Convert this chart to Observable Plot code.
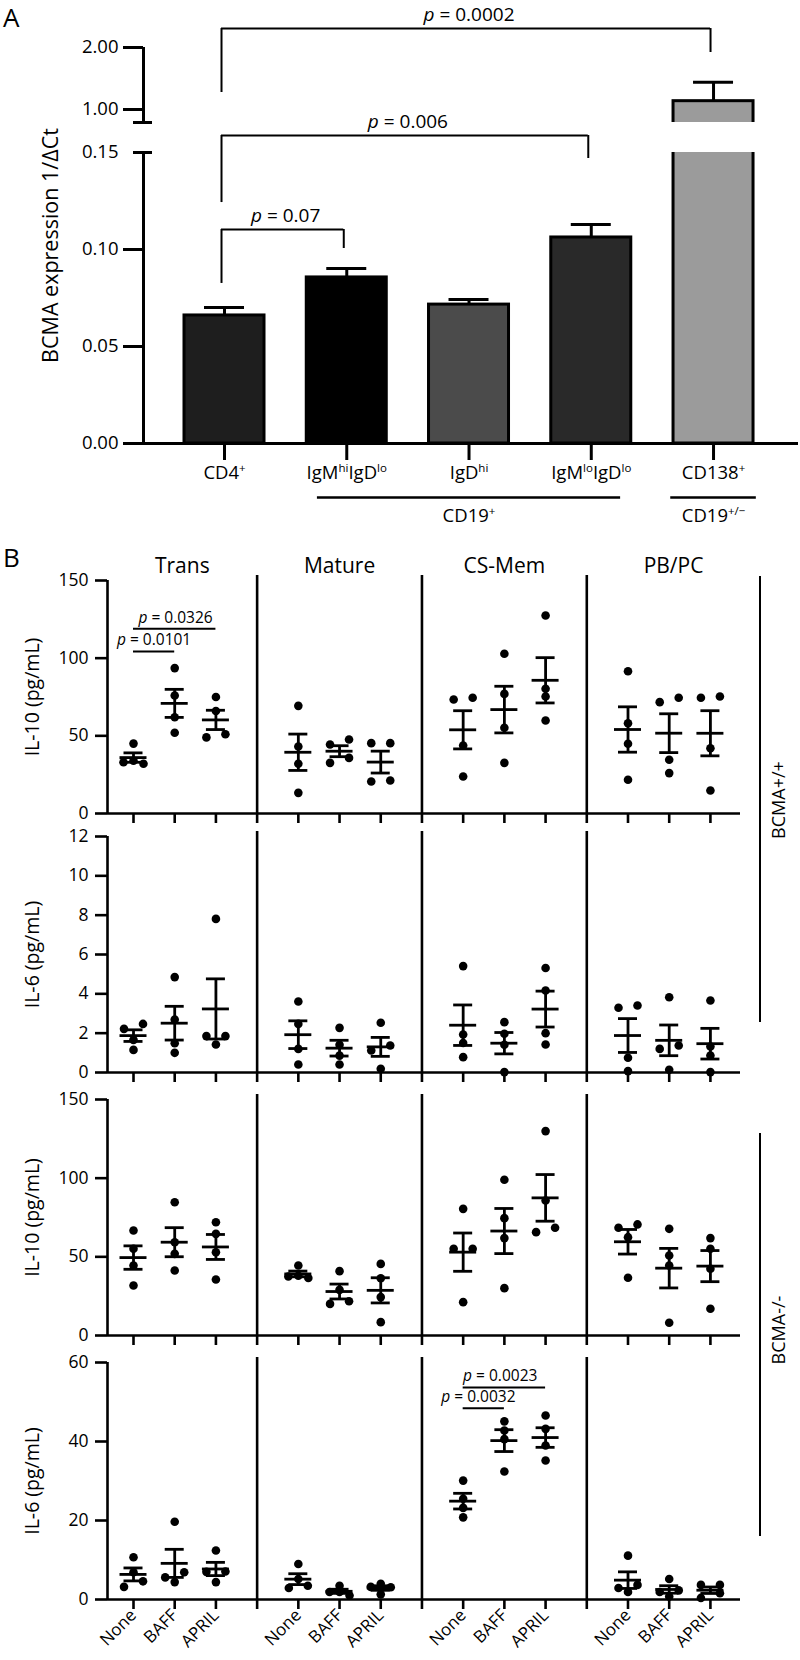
<!DOCTYPE html>
<html><head><meta charset="utf-8">
<script src="https://cdn.jsdelivr.net/npm/d3@7"></script>
<script src="https://cdn.jsdelivr.net/npm/@observablehq/plot@0.6"></script>
<style>
body{margin:0;background:#fff;font-family:"Open Sans",sans-serif;color:#000;}
#fig{position:relative;width:800px;height:1660px;overflow:hidden;}
</style></head><body><div id="fig"></div>
<script>
// ---------------- DATA: panel A ----------------
const cellTypes = ["CD4^+^", "IgM^hi^IgD^lo^", "IgD^hi^", "IgM^lo^IgD^lo^", "CD138^+^"];
const bcmaMean  = [0.066, 0.0856, 0.0716, 0.1062, 1.134];
const bcmaSem   = [0.0041, 0.0046, 0.0026, 0.0067, 0.305];
const barFills  = ["#1e1e1e", "#000000", "#4b4b4b", "#292929", "#9b9b9b"];
const yTicksA   = [0, 0.05, 0.10, 1.00, 2.00];
const yLabelA   = "BCMA expression 1/ΔCt";
const groupLabelsA = ["CD19^+^", "CD19^+/−^"];
const groupFromA   = [1, 4];
const groupToA     = [3, 4];
const pLabelsA  = ["0.07", "0.006", "0.0002"];
const pFromA    = [0, 0, 0];
const pToA      = [1, 3, 4];

// ---------------- DATA: panel B ----------------
const cellGroups = ["Trans", "Mature", "CS-Mem", "PB/PC"];
const treatments = ["None", "BAFF", "APRIL"];
const rowLabels  = ["IL-10 (pg/mL)", "IL-6 (pg/mL)", "IL-10 (pg/mL)", "IL-6 (pg/mL)"];
const genotypes  = ["BCMA+/+", "BCMA-/-"];
const yTicksB = [[0, 50, 100, 150], [0, 2, 4, 6, 8, 10, 12], [0, 50, 100, 150], [0, 20, 40, 60]];
const yMaxB   = [150, 12, 150, 60];
// values[cellGroup][treatment] = 4 donors
const il10WT = [
  [[45, 34, 33, 32], [93.6, 76, 62, 52], [75, 66, 51, 49]],
  [[69.3, 43.1, 32, 13.3], [47.6, 44.4, 35.8, 32.6], [45.3, 45.3, 21.2, 20.6]],
  [[74.5, 73.4, 43.8, 23.8], [102.8, 77, 55.2, 32.6], [127.5, 80.3, 75.3, 59.9]],
  [[91.6, 58.1, 44.9, 21.7], [74.5, 71.7, 34.6, 26], [75.3, 74.5, 42, 14.8]]
];
const il6WT = [
  [[2.47, 2.22, 1.66, 1.15], [4.85, 2.69, 1.49, 1.0], [7.81, 1.85, 1.85, 1.42]],
  [[3.61, 2.47, 1.2, 0.41], [2.27, 1.41, 0.86, 0.41], [2.53, 1.37, 1.12, 0.19]],
  [[5.41, 1.93, 1.5, 0.78], [2.56, 1.97, 1.41, 0.02], [5.31, 4.17, 2.0, 1.42]],
  [[3.41, 3.29, 0.75, 0.07], [3.83, 1.37, 1.2, 0.14], [3.66, 1.32, 0.86, 0.02]]
];
const il10KO = [
  [[66.7, 55.1, 44.5, 31.8], [84.7, 59.3, 51.9, 41.3], [72, 64.6, 52.9, 35.6]],
  [[44.5, 38, 37.5, 36.5], [40.9, 29, 21.8, 20.1], [45.5, 36.4, 24.4, 8.5]],
  [[80.5, 55.1, 55.1, 21.2], [99, 74.6, 61.9, 30.1], [129.9, 85.8, 68.5, 65.7]],
  [[70.6, 68.5, 62.5, 36.7], [67.8, 50.8, 44.5, 8.1], [61.9, 55.1, 42.4, 17]]
];
const il6KO = [
  [[10.7, 6.9, 4.6, 3.2], [19.7, 6.9, 5.6, 4.4], [12.4, 7.1, 7.0, 4.4]],
  [[9.0, 5.2, 3.5, 2.9], [3.5, 1.9, 1.9, 1.0], [4.0, 3.2, 3.1, 1.3]],
  [[30.1, 25.5, 23.2, 20.8], [45.1, 42.8, 40.6, 32.4], [46.6, 43.2, 39, 35.2]],
  [[11.1, 3.7, 2.9, 1.9], [5.2, 2.3, 1.9, 0.76], [3.7, 3.7, 1.6, 0.4]]
];
const sigRow   = [0, 0, 3, 3];
const sigGroup = [0, 0, 2, 2];
const sigFrom  = [0, 0, 0, 0];
const sigTo    = [2, 1, 2, 1];
const sigP     = ["0.0326", "0.0101", "0.0023", "0.0032"];

// ---------------- LAYOUT ----------------
const FONT = "'Open Sans', sans-serif";
const A_X = [-0.6626, 4.695];
const A_PX = (800 - 143 - 2) / (A_X[1] - A_X[0]);
const A_Y_DOMAIN = [0, 0.15, 0.79, 2];
const A_Y_RANGE  = [443, 152, 122, 47];
const bracketTopA   = [0.1103, 0.5127, 2.306];
const bracketLeftA  = [0.0825, 0.1242, 1.274];
const bracketRightA = [0.1005, 0.1469, 1.919];
const groupPadA = [0.24, 0.35];

const B_X = [-0.631, 14.73];
const B_ML = 107, B_MR = 60;
const B_PX = (800 - B_ML - B_MR) / (B_X[1] - B_X[0]);
const ROWS = [
  {top: 540, mt: 40, mb: 13, h: 286},
  {top: 826, mt: 10, mb: 15, h: 261},
  {top: 1087, mt: 12, mb: 14, h: 262},
  {top: 1349, mt: 13, mb: 61, h: 311}
];
const regionBounds = [B_X[0], 3, 7, 11, 15.21];
const sigY      = [119, 104.3, 53.7, 48.4];
const sigLabelX = [1.02, 0.5, 0.9, 0.37];
const PATTERNS = {1: [0], 2: [9.5, -9.5], 3: [0, -10, 10], 4: [-15, -5, 5, 15]};

const fig = document.getElementById("fig");

// ---------- helpers ----------
function richify(root) {
  const NS = "http://www.w3.org/2000/svg";
  root.querySelectorAll("text, tspan").forEach(el => {
    if (el.children.length) return;
    const s = el.textContent;
    if (!/[\^*]/.test(s)) return;
    const fs = parseFloat(getComputedStyle(el).fontSize) || 16;
    el.textContent = "";
    let sup = false, ital = false, buf = "", raised = false;
    const flush = () => {
      if (!buf) return;
      const t = document.createElementNS(NS, "tspan");
      t.textContent = buf;
      if (ital) t.setAttribute("font-style", "italic");
      if (sup) {
        t.setAttribute("font-size", (fs * 0.62).toFixed(1));
        if (!raised) { t.setAttribute("dy", (-fs * 0.38).toFixed(1)); raised = true; }
      } else if (raised) {
        t.setAttribute("dy", (fs * 0.38).toFixed(1)); raised = false;
      }
      el.appendChild(t);
      buf = "";
    };
    for (const ch of s) {
      if (ch === "^") { flush(); sup = !sup; }
      else if (ch === "*") { flush(); ital = !ital; }
      else buf += ch;
    }
    flush();
  });
}
function place(node, top, left) {
  node.style.position = "absolute";
  node.style.top = top + "px";
  node.style.left = (left || 0) + "px";
  fig.appendChild(node);
  richify(node);
}
function jitterPx(values, pyu) {
  const idx = values.map((v, i) => i).sort((a, b) => values[b] - values[a]);
  const off = values.map(() => 0);
  let k = 0;
  while (k < idx.length) {
    const cl = [idx[k]];
    let j = k + 1;
    while (j < idx.length && (values[idx[k]] - values[idx[j]]) * pyu < 6) { cl.push(idx[j]); j++; }
    const pat = PATTERNS[cl.length];
    cl.forEach((ii, m) => off[ii] = pat[m]);
    k = j;
  }
  return off;
}

// ---------------- PANEL A ----------------
const barsA = cellTypes.map((c, i) => ({i, mean: bcmaMean[i], sem: bcmaSem[i], fill: barFills[i]}));
const bracketsA = pLabelsA.map((p, k) => ({p, a: pFromA[k], b: pToA[k], top: bracketTopA[k], left: bracketLeftA[k], right: bracketRightA[k]}));
const groupsA = groupLabelsA.map((g, k) => ({label: g, from: groupFromA[k], to: groupToA[k], pad: groupPadA[k]}));
const BAR_HALF = 40 / A_PX, CAP_HALF_A = 20 / A_PX;

const plotA = Plot.plot({
  width: 800, height: 535,
  marginLeft: 143, marginRight: 2, marginTop: 47, marginBottom: 92,
  style: {fontFamily: FONT, fontSize: "18px", color: "black", background: "white", overflow: "visible"},
  x: {type: "linear", domain: A_X},
  y: {type: "linear", domain: A_Y_DOMAIN, range: A_Y_RANGE},
  marks: [
    Plot.rect(barsA, {x1: d => d.i - BAR_HALF, x2: d => d.i + BAR_HALF, y1: 0, y2: "mean", fill: "fill", stroke: "black", strokeWidth: 3}),
    Plot.ruleX(barsA, {x: "i", y1: "mean", y2: d => d.mean + d.sem, strokeWidth: 3}),
    Plot.ruleY(barsA, {y: d => d.mean + d.sem, x1: d => d.i - CAP_HALF_A, x2: d => d.i + CAP_HALF_A, strokeWidth: 3}),
    Plot.ruleX([A_X[0]], {strokeWidth: 3}),
    Plot.rect([{y1: A_Y_DOMAIN[1], y2: A_Y_DOMAIN[2]}], {x1: A_X[0] - 0.2, x2: A_X[1], y1: "y1", y2: "y2", fill: "white"}),
    Plot.ruleY([0], {strokeWidth: 3}),
    Plot.axisY({ticks: yTicksA, tickSize: 20, tickPadding: 5, strokeWidth: 3, tickFormat: d3.format(".2f"), fontSize: 18.5, label: null}),
    Plot.axisY({ticks: [0.15], tickSize: 0, tickPadding: 25, tickFormat: d3.format(".2f"), fontSize: 18.5, label: null}),
    Plot.text([yLabelA], {frameAnchor: "left", textAnchor: "middle", lineAnchor: "middle", rotate: -90, dx: -92, text: d => d, fontSize: 21.5}),
    Plot.ruleY([A_Y_DOMAIN[1], A_Y_DOMAIN[2]], {y: d => d, x1: A_X[0] - 10 / A_PX, x2: A_X[0] + 9 / A_PX, strokeWidth: 3}),
    Plot.axisX({ticks: [0, 1, 2, 3, 4], tickSize: 17, tickPadding: 5, strokeWidth: 3, tickFormat: i => cellTypes[i], fontSize: 18.5, label: null}),
    Plot.ruleY(groupsA, {y: 0, x1: d => d.from - d.pad, x2: d => d.to + d.pad, dy: 54, strokeWidth: 2.5}),
    Plot.text(groupsA, {x: d => (d.from + d.to) / 2, y: 0, dy: 73, text: "label", fontSize: 18.5}),
    Plot.ruleY(bracketsA, {y: "top", x1: "a", x2: "b", dx: -3, strokeWidth: 2}),
    Plot.ruleX(bracketsA, {x: "a", y1: "left", y2: "top", dx: -3, strokeWidth: 2}),
    Plot.ruleX(bracketsA, {x: "b", y1: "right", y2: "top", dx: -3, strokeWidth: 2}),
    Plot.text(bracketsA, {x: d => (d.a + d.b) / 2, y: "top", dy: -14, text: d => "*p* = " + d.p, fontSize: 19})
  ]
});
place(plotA, 0, 0);

// ---------------- PANEL B ----------------
const rowSeries = [il10WT, il6WT, il10KO, il6KO];
const sigB = sigP.map((p, k) => ({row: sigRow[k], col: sigGroup[k], from: sigFrom[k], to: sigTo[k], p, y: sigY[k], lx: sigLabelX[k]}));
const tickX = [];
cellGroups.forEach((g, c) => treatments.forEach((t, i) => tickX.push(c * 4 + i)));
const dividerX = cellGroups.slice(1).map((g, c) => (c + 1) * 4 - 1);
const titleX = cellGroups.map((g, c) => (regionBounds[c] + regionBounds[c + 1]) / 2);
const MEAN_HALF = 13.5 / B_PX, CAP_HALF = 9.5 / B_PX;
const AX_W = 2.6, DATA_W = 2.8;

ROWS.forEach((L, r) => {
  const innerH = L.h - L.mt - L.mb;
  const pyu = innerH / yMaxB[r];
  const points = [], summary = [];
  rowSeries[r].forEach((grp, c) => grp.forEach((vals, t) => {
    const off = jitterPx(vals, pyu);
    const xc = c * 4 + t;
    vals.forEach((v, k) => points.push({x: xc + off[k] / B_PX, value: v}));
    summary.push({x: xc, mean: d3.mean(vals), sem: d3.deviation(vals) / Math.sqrt(vals.length)});
  }));
  const sig = sigB.filter(d => d.row === r);
  const bottom = r === ROWS.length - 1;
  const marks = [
    Plot.ruleX([B_X[0]], {strokeWidth: AX_W}),
    Plot.ruleX(dividerX, {strokeWidth: AX_W, insetTop: -5, insetBottom: -10}),
    Plot.ruleY([0], {strokeWidth: AX_W}),
    Plot.axisY({ticks: yTicksB[r], tickSize: 12, tickPadding: 7, strokeWidth: AX_W, fontSize: 17.5, tickFormat: d3.format("d"), label: null}),
    Plot.text([rowLabels[r]], {frameAnchor: "left", textAnchor: "middle", lineAnchor: "middle", rotate: -90, dx: -75, text: d => d, fontSize: 19.5}),
    Plot.axisX({ticks: tickX, tickSize: 10, tickPadding: 3, strokeWidth: AX_W, label: null, fontSize: 17,
      tickFormat: bottom ? (v => treatments[v % 4]) : (() => ""), tickRotate: bottom ? -45 : 0}),
    Plot.dot(points, {x: "x", y: "value", r: 4.3, fill: "black"}),
    Plot.ruleY(summary, {y: "mean", x1: d => d.x - MEAN_HALF, x2: d => d.x + MEAN_HALF, strokeWidth: DATA_W}),
    Plot.ruleX(summary, {x: "x", y1: d => d.mean - d.sem, y2: d => d.mean + d.sem, strokeWidth: DATA_W}),
    Plot.ruleY(summary, {y: d => d.mean + d.sem, x1: d => d.x - CAP_HALF, x2: d => d.x + CAP_HALF, strokeWidth: DATA_W}),
    Plot.ruleY(summary, {y: d => d.mean - d.sem, x1: d => d.x - CAP_HALF, x2: d => d.x + CAP_HALF, strokeWidth: DATA_W}),
    Plot.ruleY(sig, {y: "y", x1: d => d.col * 4 + d.from, x2: d => d.col * 4 + d.to, strokeWidth: 2}),
    Plot.text(sig, {x: d => d.col * 4 + d.lx, y: "y", dy: -11, text: d => "*p* = " + d.p, fontSize: 15.5})
  ];
  if (r === 0) marks.push(Plot.text(cellGroups, {x: (d, i) => titleX[i], frameAnchor: "top", dy: -22, text: d => d, fontSize: 21}));
  const p = Plot.plot({
    width: 800, height: L.h,
    marginLeft: B_ML, marginRight: B_MR, marginTop: L.mt, marginBottom: L.mb,
    style: {fontFamily: FONT, fontSize: "17px", color: "black", background: "transparent", overflow: "visible"},
    x: {type: "linear", domain: B_X},
    y: {type: "linear", domain: [0, yMaxB[r]]},
    marks
  });
  place(p, L.top, 0);
});

// ---------- panel letters and genotype brackets ----------
function addText(txt, css) {
  const d = document.createElement("div");
  d.textContent = txt;
  d.style.cssText = "position:absolute;font-family:" + FONT + ";line-height:1;" + css;
  fig.appendChild(d);
  return d;
}
addText("A", "left:3px;top:4px;font-size:26px;");
addText("B", "left:3px;top:544px;font-size:26px;");
const genoSpans = [[576, 1022, 800], [1133, 1536, 1330]];
genotypes.forEach((g, k) => {
  const [t, b, c] = genoSpans[k];
  const line = document.createElement("div");
  line.style.cssText = `position:absolute;left:759px;top:${t}px;height:${b - t}px;border-left:2.5px solid #000;`;
  fig.appendChild(line);
  addText(g, `left:${778 - 60}px;top:${c - 12}px;width:120px;height:24px;line-height:24px;text-align:center;font-size:18px;transform:rotate(-90deg);`);
});
</script></body></html>
